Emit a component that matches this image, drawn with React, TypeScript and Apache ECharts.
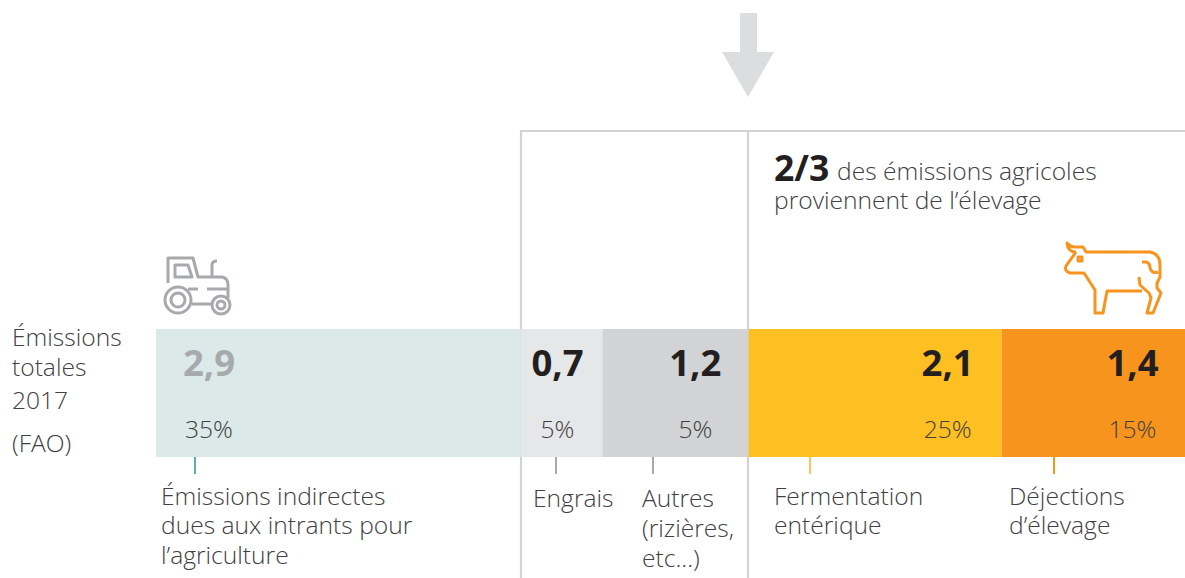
import React, { useEffect, useRef } from "react";
import * as echarts from "echarts";

// Drawn lengths of the bar segments (Gt CO2 eq scale)
const segmentLengths = [2.94, 0.66, 1.18, 2.04, 1.48];
const valueLabels = ["2,9", "0,7", "1,2", "2,1", "1,4"];
const shareLabels = ["35%", "5%", "5%", "25%", "15%"];
const segmentNames = ["Intrants", "Engrais", "Autres", "Fermentation", "Déjections"];

const segmentColors = ["#dbe9e8", "#e6e7e8", "#d1d3d4", "#fdbf22", "#f7941e"];
const valueColors = ["#a7a9ac", "#231f20", "#231f20", "#231f20", "#231f20"];
const labelCenters = [53, 37, 93, 199, 131];

const FONT = "'Open Sans', sans-serif";
const TEXT = "#414042";
const RULE = "#d1d3d4";
const SIZE = 24.6;

const tractorPath =
  "M168 283 L168 258 L193 258 L198 277 L222 277 Q228 278 228 285 L228 298 " +
  "M175 265 L188 265 L192 277 L175 277 Z " +
  "M212 277 L212 265 Q212 261 217 261 " +
  "M188 289 L198 289 M207 289 L228 289 M192 304 L212 304 " +
  "M191 300 A13 13 0 1 1 165 300 A13 13 0 1 1 191 300 Z " +
  "M185 300 A7 7 0 1 1 171 300 A7 7 0 1 1 185 300 Z " +
  "M230 305 A9 9 0 1 1 212 305 A9 9 0 1 1 230 305 Z " +
  "M225 305 A4 4 0 1 1 217 305 A4 4 0 1 1 225 305 Z";

const cowPath =
  "M1076 252 Q1068 252 1067 243 Q1070 247 1075 247 L1083 247 L1086 252 L1150 252 " +
  "Q1160 254 1160 265 L1160 277 L1157 283 L1157 288 L1161 293 L1153 313 L1147 313 " +
  "L1151 298 L1149 293 L1140 285 L1139 277 " +
  "M1142 291 L1107 291 L1103 313 L1095 313 L1095 290 L1084 273 L1070 273 Q1064 271 1066 266 L1076 252 " +
  "M1142 262 L1146 262 Q1150 263 1150 268 Q1152 274 1158 272 " +
  "M1078 257 L1082 257 L1082 261 L1078 261 Z";

echarts.graphic.registerShape("tractorIcon", echarts.graphic.extendPath(tractorPath, {}));
echarts.graphic.registerShape("cowIcon", echarts.graphic.extendPath(cowPath, {}));

const light = (text: string, x: number, y: number, fontSize = SIZE) => ({
  type: "text",
  x,
  y,
  silent: true,
  style: { text, fontFamily: FONT, fontWeight: 300, fontSize, fill: TEXT, verticalAlign: "middle", align: "left" },
});

const tick = (x: number, stroke: string) => ({
  type: "line",
  silent: true,
  shape: { x1: x, y1: 455, x2: x, y2: 474 },
  style: { stroke, lineWidth: 2 },
});

export default function App() {
  const ref = useRef<HTMLDivElement>(null);
  useEffect(() => {
    const chart = echarts.init(ref.current!, null, { renderer: "svg" });
    chart.setOption({
      animation: false,
      grid: { left: 156, right: 0, top: 329, height: 128, containLabel: false },
      xAxis: { type: "value", min: 0, max: 8.3, show: false },
      yAxis: { type: "category", data: ["2017"], show: false },
      series: segmentLengths.map((v, i) => ({
        type: "bar",
        name: segmentNames[i],
        stack: "total",
        barWidth: 128,
        itemStyle: { color: segmentColors[i] },
        label: {
          show: true,
          position: [labelCenters[i], -1],
          align: "center",
          verticalAlign: "top",
          formatter: `{v|${valueLabels[i]}}\n{p|${shareLabels[i]}}`,
          rich: {
            v: { fontFamily: FONT, fontWeight: 700, fontSize: 36.5, lineHeight: 67, color: valueColors[i] },
            p: { fontFamily: FONT, fontWeight: 300, fontSize: SIZE, lineHeight: 67, color: TEXT },
          },
        },
        data: [v],
      })),
      graphic: [
        { type: "polygon", silent: true, shape: { points: [[740, 13], [757, 13], [757, 52], [774, 52], [748, 97], [722, 52], [740, 52]] }, style: { fill: "#dcddde" } },
        { type: "polyline", silent: true, shape: { points: [[521, 578], [521, 131], [1185, 131]] }, style: { stroke: RULE, lineWidth: 2.2, fill: "none" } },
        { type: "line", silent: true, shape: { x1: 748, y1: 131, x2: 748, y2: 578 }, style: { stroke: RULE, lineWidth: 2.2 } },
        { type: "tractorIcon", silent: true, x: 0, y: 0, style: { stroke: "#a7a9ac", lineWidth: 3, fill: "none", lineJoin: "round" } },
        { type: "cowIcon", silent: true, x: 0, y: 0, style: { stroke: "#f7941e", lineWidth: 3, fill: "none", lineJoin: "round" } },
        tick(195, "#5fb0a5"),
        tick(556, "#a7a9ac"),
        tick(653, "#a7a9ac"),
        tick(810, "#fdc35a"),
        tick(1054, "#f7941e"),
        light("Émissions", 12, 336),
        light("totales", 12, 366),
        light("2017", 12, 399),
        light("(FAO)", 12, 442),
        { type: "text", x: 774, y: 167, silent: true, style: { text: "2/3", fontFamily: FONT, fontWeight: 700, fontSize: 35.5, fill: "#231f20", verticalAlign: "middle", align: "left" } },
        light("des émissions agricoles", 837, 170),
        light("proviennent de l’élevage", 774, 199),
        light("Émissions indirectes", 161, 495),
        light("dues aux intrants pour", 161, 524),
        light("l’agriculture", 161, 554),
        light("Engrais", 533, 497),
        light("Autres", 642, 497),
        light("(rizières,", 642, 527),
        light("etc...)", 642, 557),
        light("Fermentation", 774, 495),
        light("entérique", 774, 524),
        light("Déjections", 1009, 495),
        light("d’élevage", 1009, 524),
      ],
    });
    return () => chart.dispose();
  }, []);
  return <div ref={ref} style={{ position: "absolute", left: 0, top: 0, width: 1185, height: 578 }} />;
}
